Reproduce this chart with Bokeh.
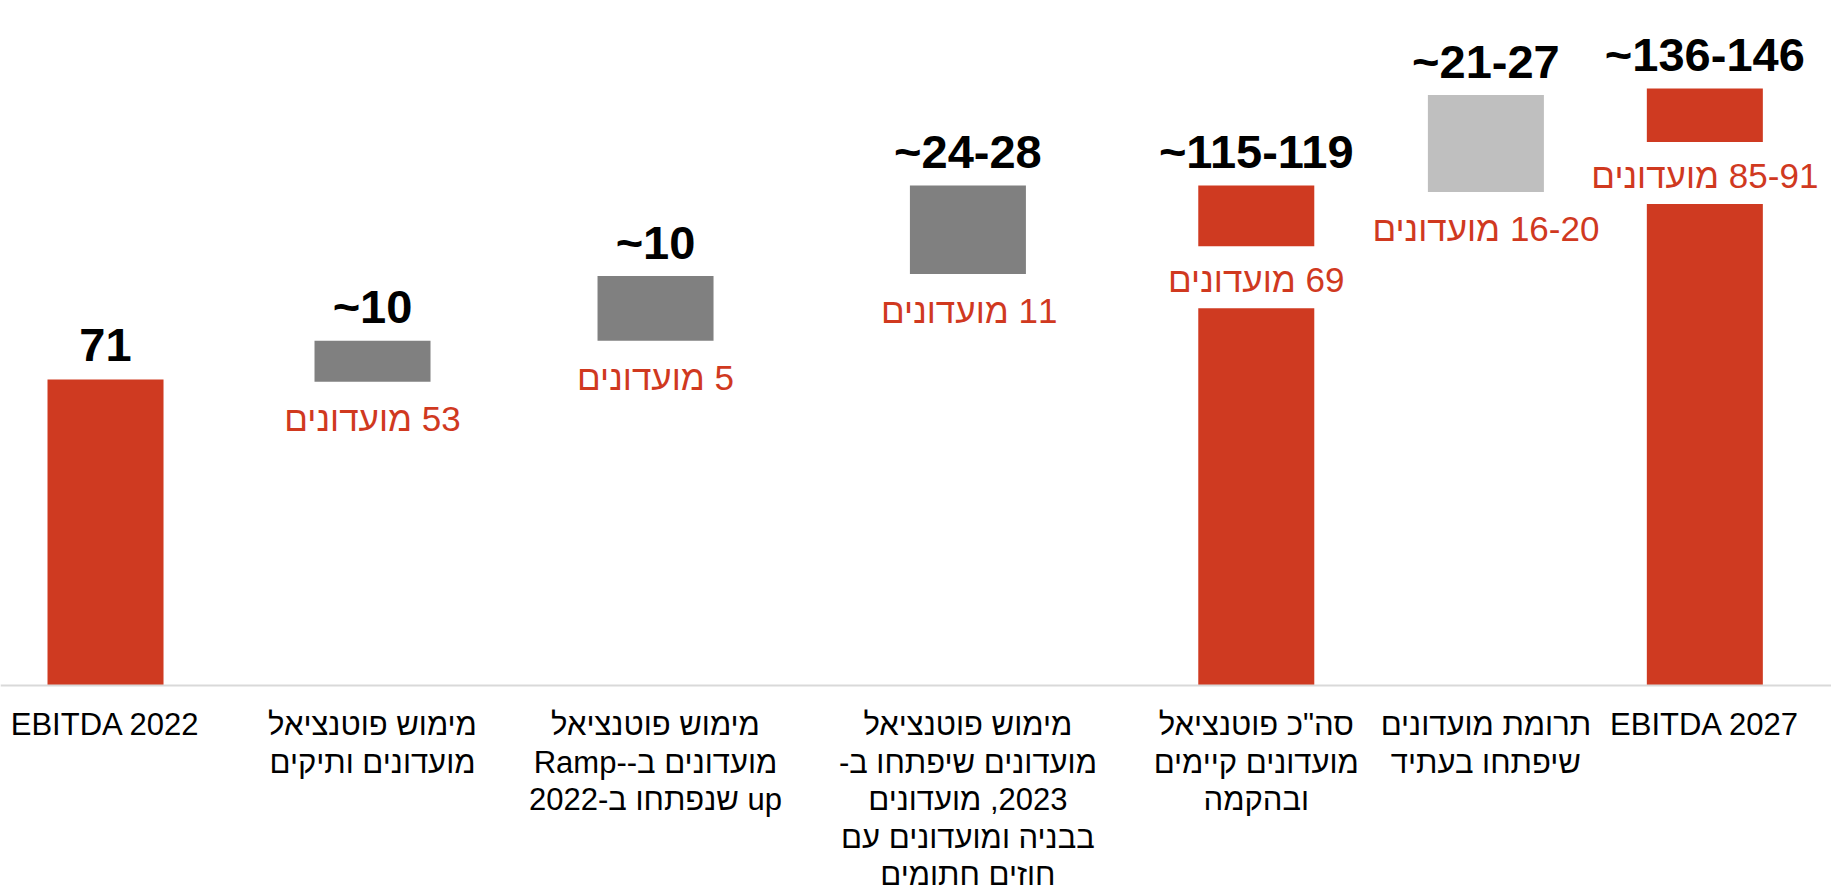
from bokeh.plotting import figure
from bokeh.models import ColumnDataSource, Range1d, Span
from bokeh.core.properties import value
from bokeh.embed import file_html
from bokeh.resources import INLINE

# ---------------- data ----------------
categories = [
    "EBITDA 2022",
    "מימוש פוטנציאל\nמועדונים ותיקים",
    "מימוש פוטנציאל\nמועדונים ב--Ramp\nup שנפתחו ב-2022",
    "מימוש פוטנציאל\nמועדונים שיפתחו ב-\n2023, מועדונים\nבבניה ומועדונים עם\nחוזים חתומים",
    "סה\"כ פוטנציאל\nמועדונים קיימים\nובהקמה",
    "תרומת מועדונים\nשיפתחו בעתיד",
    "EBITDA 2027",
]
x_pos = [0.0, 1.0, 2.06, 3.23, 4.31, 5.17, 5.99]          # category centres
bar_bottom = [0, 70.5, 80, 95.5, 0, 114.5, 0]
bar_top = [71, 80, 95, 116, 116, 137, 138.5]
bar_kind = ["total", "step", "step", "step", "total", "future", "total"]
value_labels = ["71", "~10", "~10", "~24-28", "~115-119", "~21-27", "~136-146"]
club_labels = ["", "53 מועדונים", "5 מועדונים", "11 מועדונים",
               "69 מועדונים", "16-20 מועדונים", "85-91 מועדונים"]
club_inside_y = [None, None, None, None, 94.7, None, 118.9]

# ---------------- styles ----------------
COLORS = {"total": "#CF3A21", "step": "#808080", "future": "#BFBFBF"}
RED_TEXT = "#D0391F"
FONT = "Liberation Sans"
BAR_W = 0.4345

RLE, PDF = "\u202b", "\u202c"


def has_hebrew(s):
    return any("\u0590" <= ch <= "\u05ff" for ch in s)


def rtl(s):
    return "\n".join((RLE + ln + PDF) if has_hebrew(ln) else ln for ln in s.split("\n"))


W, H = 1831, 892
p = figure(width=W, height=H, output_backend="svg", toolbar_location=None,
           x_range=Range1d(-0.3933, 6.4644), y_range=Range1d(-48.03, 158.93),
           min_border_left=0, min_border_right=0, min_border_top=0, min_border_bottom=0)
p.outline_line_color = None
p.background_fill_color = "white"
p.border_fill_color = "white"
p.xgrid.grid_line_color = None
p.ygrid.grid_line_color = None
p.xaxis.visible = False
p.yaxis.visible = False

# category baseline
p.add_layout(Span(location=0, dimension="width", line_color="#D9D9D9", line_width=2))

bars = ColumnDataSource(dict(x=x_pos, bottom=bar_bottom, top=bar_top,
                             color=[COLORS[k] for k in bar_kind],
                             vlabel=value_labels))
p.vbar(x="x", width=BAR_W, bottom="bottom", top="top", fill_color="color",
       line_color=None, source=bars)

# value labels above bars
p.text(x="x", y="top", text="vlabel", source=bars, text_align="center",
       text_baseline="alphabetic", y_offset=-34, text_font=value(FONT),
       text_font_style="bold", text_font_size="47px", text_color="black")

# club count labels
below_x, below_y, below_t = [], [], []
in_x, in_y, in_t = [], [], []
for xv, b, t, iy in zip(x_pos, bar_bottom, club_labels, club_inside_y):
    if not t:
        continue
    if iy is None:
        below_x.append(xv); below_y.append(b); below_t.append(rtl(t))
    else:
        in_x.append(xv); in_y.append(iy); in_t.append(rtl(t))

inside = ColumnDataSource(dict(x=in_x, y=in_y, t=in_t))
p.rect(x="x", y="y", width=BAR_W * 1.04, height=62, height_units="screen",
       fill_color="white", line_color=None, source=inside)
p.text(x="x", y="y", text="t", source=inside, text_align="center",
       text_baseline="alphabetic", y_offset=2, text_font=value(FONT),
       text_font_size="35px", text_color=RED_TEXT)

below = ColumnDataSource(dict(x=below_x, y=below_y, t=below_t))
p.text(x="x", y="y", text="t", source=below, text_align="center",
       text_baseline="alphabetic", y_offset=37, text_font=value(FONT),
       text_font_size="35px", text_color=RED_TEXT)

# category labels under the baseline
cat_src = ColumnDataSource(dict(x=x_pos, y=[0] * len(x_pos),
                                t=[rtl(c) for c in categories]))
p.text(x="x", y="y", text="t", source=cat_src, text_align="center",
       text_baseline="top", y_offset=22, text_font=value(FONT),
       text_font_size="31px", text_color="black", text_line_height=1.07)

open("out.html", "w").write(file_html(p, INLINE))
